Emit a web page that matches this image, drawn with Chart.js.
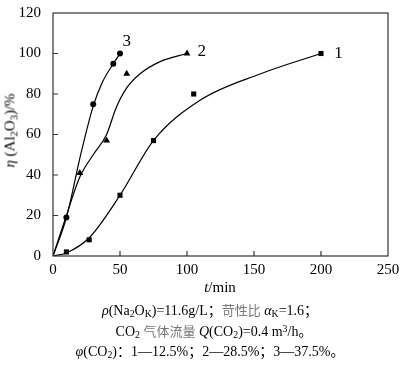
<!DOCTYPE html>
<html>
<head>
<meta charset="utf-8">
<script src="https://cdn.jsdelivr.net/npm/chart.js@4"></script>
<style>
  body { margin: 0; background: #fff; }
  #wrap { position: relative; width: 400px; height: 365px; overflow: hidden; font-family: "Liberation Serif", "Times New Roman", "Noto Sans CJK SC", serif; color: #000; }
  #wrap canvas { position: absolute; left: 0; top: 0; }
  .txt { position: absolute; white-space: nowrap; font-size: 14px; line-height: 1; text-align: center; }
  .txt sub { font-size: 70%; vertical-align: -0.25em; line-height: 0; }
  .txt sup { font-size: 70%; vertical-align: 0.45em; line-height: 0; }
  .zh { color: #777; font-family: "Noto Sans CJK SC", sans-serif; font-size: 13px; }
  #ytitle { left: -40px; top: 123px; width: 100px; font-size: 15px; transform: rotate(-90deg); }
</style>
</head>
<body>
<div id="wrap">
  <canvas id="chart" width="400" height="365"></canvas>
  <div class="txt" id="ytitle"><i>η</i> (Al<sub>2</sub>O<sub>3</sub>)/%</div>
  <div class="txt" style="left:170px; top:280px; width:100px; font-size:15px;"><i>t</i>/min</div>
  <div class="txt" style="left:10px; top:303px; width:400px;"><i>ρ</i>(Na<sub>2</sub>O<sub>K</sub>)=11.6g/L；<span class="zh">苛性比</span> <i>α</i><sub>K</sub>=1.6；</div>
  <div class="txt" style="left:14px; top:324px; width:400px;">CO<sub>2</sub> <span class="zh">气体流量</span> <i>Q</i>(CO<sub>2</sub>)=0.4 m<sup>3</sup>/h。</div>
  <div class="txt" style="left:10px; top:345px; width:400px;"><i>φ</i>(CO<sub>2</sub>)：1—12.5%；2—28.5%；3—37.5%。</div>
</div>
<script>
// measured points (t/min, eta %)
var t1 = [10, 27, 50, 75, 105, 200];
var y1 = [2, 8, 30, 57, 80, 100];
var t2 = [20, 40, 55, 100];
var y2 = [41, 57, 90, 100];
var t3 = [10, 30, 45, 50];
var y3 = [19, 75, 95, 100];

// fitted curves
var ct1 = [0, 10, 27, 50, 75, 110, 155, 200];
var cy1 = [0, 1.5, 9, 30, 57, 77, 90, 100];
var ct2 = [0, 10, 20, 30, 40, 47, 55, 65, 80, 100];
var cy2 = [0, 20, 39, 50, 60, 73, 83, 90, 96, 100];
var ct3 = [0, 10, 21, 30, 37, 45, 50];
var cy3 = [0, 19, 51, 74, 86, 95, 100];

// curve numbers and where they sit
var curveNames = ["1", "2", "3"];
var nameT = [213, 111, 55];
var nameY = [100, 101, 106];

var xTicks = [0, 50, 100, 150, 200, 250];
var yTicks = [0, 20, 40, 60, 80, 100, 120];

function pts(xs, ys) {
  return xs.map(function (x, i) { return { x: x, y: ys[i] }; });
}

function markers(xs, ys, style, r) {
  return { data: pts(xs, ys), showLine: false, pointStyle: style, pointRadius: r,
           backgroundColor: '#000', borderColor: '#000', borderWidth: 0 };
}
function curve(xs, ys) {
  return { data: pts(xs, ys), showLine: true, pointRadius: 0, borderColor: '#000',
           borderWidth: 1.2, cubicInterpolationMode: 'monotone', fill: false };
}

var serif = "'Liberation Serif', 'Times New Roman', serif";

// box round the plot, inward tick marks, curve numbers
var framePlugin = {
  id: 'frame',
  afterDraw: function (chart) {
    var c = chart.ctx, a = chart.chartArea;
    var sx = chart.scales.x, sy = chart.scales.y;
    c.save();
    c.strokeStyle = '#333';
    c.lineWidth = 1.2;
    c.strokeRect(a.left, a.top, a.right - a.left, a.bottom - a.top);
    c.beginPath();
    xTicks.slice(1, -1).forEach(function (v) {
      var px = sx.getPixelForValue(v);
      c.moveTo(px, a.bottom); c.lineTo(px, a.bottom - 5);
    });
    yTicks.slice(1, -1).forEach(function (v) {
      var py = sy.getPixelForValue(v);
      c.moveTo(a.left, py); c.lineTo(a.left + 5, py);
    });
    c.stroke();
    c.fillStyle = '#000';
    c.font = '17px ' + serif;
    c.textAlign = 'center';
    c.textBaseline = 'middle';
    curveNames.forEach(function (n, i) {
      c.fillText(n, sx.getPixelForValue(nameT[i]), sy.getPixelForValue(nameY[i]));
    });
    c.restore();
  }
};

new Chart(document.getElementById('chart'), {
  type: 'scatter',
  data: {
    datasets: [
      curve(ct1, cy1), curve(ct2, cy2), curve(ct3, cy3),
      markers(t1, y1, 'rect', 3.6),
      markers(t2, y2, 'triangle', 4),
      markers(t3, y3, 'circle', 3)
    ]
  },
  options: {
    responsive: false,
    animation: false,
    layout: { padding: { top: 7, right: 12, left: 0, bottom: 0 } },
    plugins: { legend: { display: false }, tooltip: { enabled: false } },
    scales: {
      x: {
        type: 'linear', min: 0, max: 250,
        afterFit: function (s) { s.height = 109; },
        afterBuildTicks: function (s) { s.ticks = xTicks.map(function (v) { return { value: v }; }); },
        grid: { display: false },
        border: { display: false },
        ticks: { color: '#000', padding: -3, maxRotation: 0, font: { family: serif, size: 15 } }
      },
      y: {
        type: 'linear', min: 0, max: 120,
        afterFit: function (s) { s.width = 53; },
        afterBuildTicks: function (s) { s.ticks = yTicks.map(function (v) { return { value: v }; }); },
        grid: { display: false },
        border: { display: false },
        ticks: { color: '#000', padding: 4, font: { family: serif, size: 15 } }
      }
    }
  },
  plugins: [framePlugin]
});
</script>
</body>
</html>
